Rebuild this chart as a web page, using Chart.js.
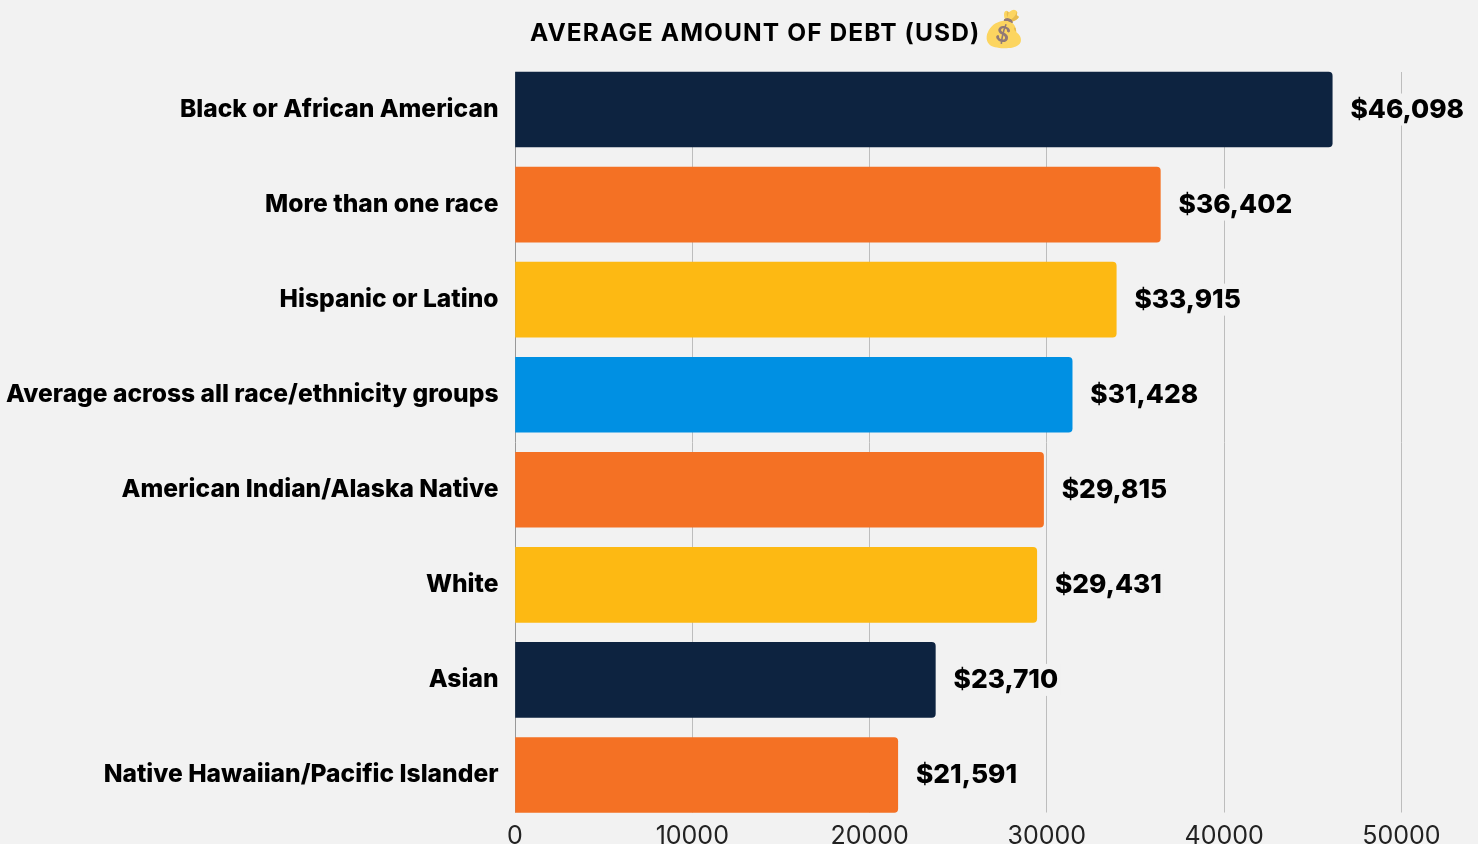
<!DOCTYPE html>
<html><head><meta charset="utf-8">
<script src="https://cdn.jsdelivr.net/npm/chart.js@4"></script>
<style>html,body{margin:0;padding:0;background:#f2f2f2;overflow:hidden}#w{position:relative;width:1478px;height:844px}</style>
</head><body><div id="w"><canvas id="c"></canvas></div>
<script>
const categories=["Black or African American","More than one race","Hispanic or Latino","Average across all race/ethnicity groups","American Indian/Alaska Native","White","Asian","Native Hawaiian/Pacific Islander"];
const values=[46098,36402,33915,31428,29815,29431,23710,21591];
const barColors=["#0d2340","#f47124","#fdb913","#0090e3","#f47124","#fdb913","#0d2340","#f47124"];
const titleText="AVERAGE AMOUNT OF DEBT (USD)";
const titleEmoji="💰";
const FONT='Inter, "Noto Sans", sans-serif';
const bg="#f2f2f2";
const decor={id:"decor",
 beforeDatasetsDraw(ch){const a=ch.chartArea,c=ch.ctx;c.save();c.fillStyle=bg;
  c.fillRect(a.left-2,a.top-2,a.right-a.left+6,12);c.fillRect(a.left-2,a.bottom-10,a.right-a.left+6,11);c.restore();},
 afterDatasetsDraw(ch){const c=ch.ctx,m=ch.getDatasetMeta(0);c.save();
  c.font='800 26.3px '+FONT;c.textBaseline="middle";c.textAlign="left";
  m.data.forEach((b,i)=>{const t="$"+values[i].toLocaleString("en-US"),w=c.measureText(t).width,x=b.x+18.2;
   c.fillStyle=bg;c.fillRect(x-2,b.y-16,w+4,32);c.fillStyle="#000";c.fillText(t,x,b.y+0.5);});
  c.font='700 24.5px '+FONT;c.letterSpacing="1.1px";c.fillText(titleText,530,33.5);
  c.letterSpacing="0px";c.globalAlpha=0.72;c.font='35px "Noto Color Emoji", '+FONT;c.fillText(titleEmoji,982,30.5);c.restore();}};
new Chart(document.getElementById("c"),{type:"bar",
 data:{labels:categories,datasets:[{data:values,backgroundColor:barColors,barThickness:75,borderRadius:{topRight:4,bottomRight:4,topLeft:0,bottomLeft:0},borderSkipped:false}]},
 options:{indexAxis:"y",responsive:true,maintainAspectRatio:false,animation:false,
  layout:{padding:{top:62,right:76.6,left:0,bottom:0}},
  plugins:{legend:{display:false},title:{display:false},tooltip:{enabled:false}},
  scales:{
   x:{min:0,max:50000,position:"bottom",afterFit(s){s.height=21.5},
      border:{display:false},
      grid:{color:c=>c.tick.value===0?"#999":"#bdbdbd",lineWidth:1,drawTicks:false},
      ticks:{stepSize:10000,color:"#222",padding:-1,maxRotation:0,callback:v=>String(v),font:{family:FONT,size:25,weight:"400"}}},
   y:{afterFit(s){s.width=515;s.paddingTop=0;s.paddingBottom=0},border:{display:false},grid:{display:false,drawTicks:false},
      ticks:{color:"#000",padding:16.5,font:{family:FONT,size:24.6,weight:"800"}}}
  }},plugins:[decor]});
</script></body></html>
